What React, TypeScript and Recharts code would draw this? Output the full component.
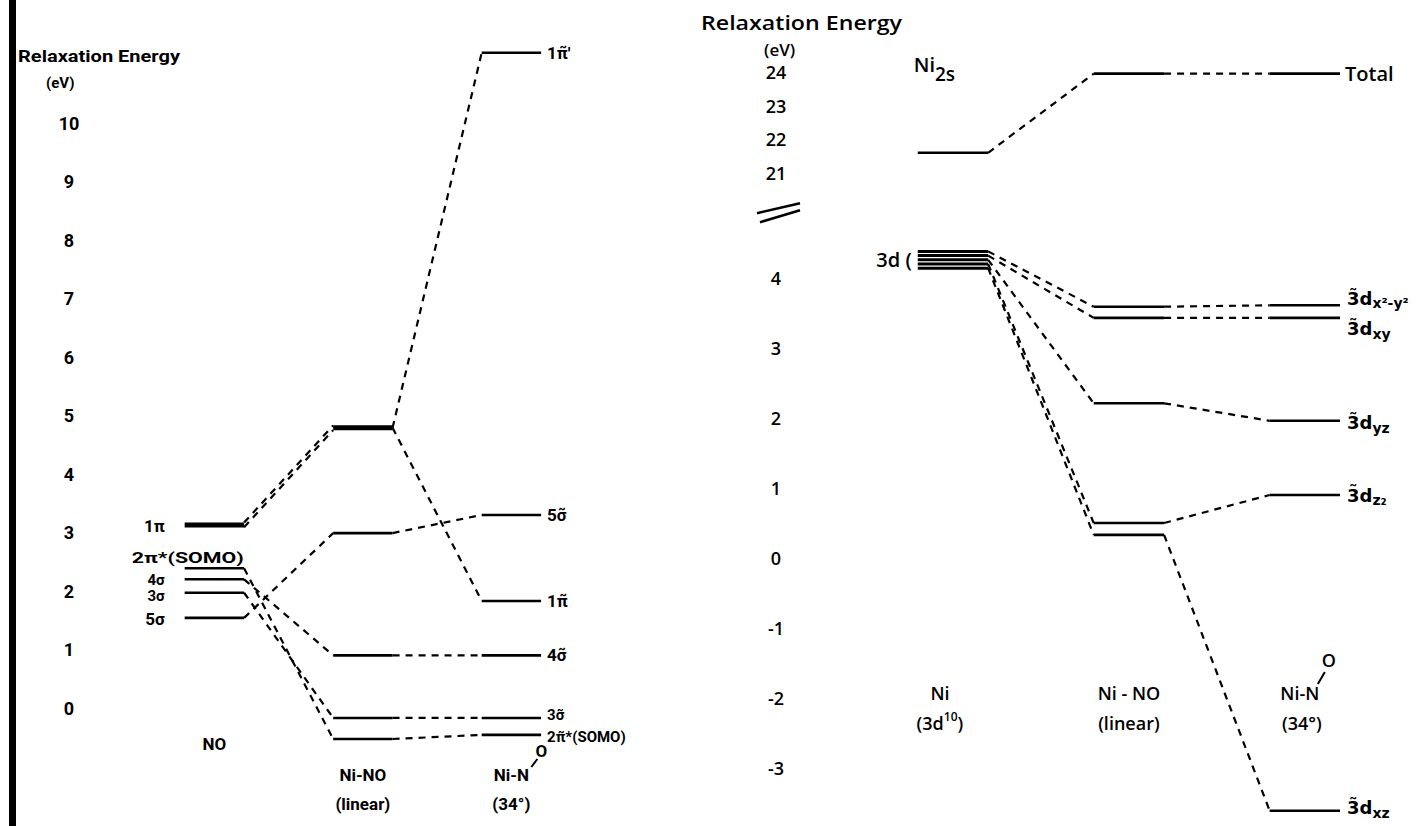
import React from 'react';
import { LineChart, Line, XAxis, YAxis } from 'recharts';

// ---------------- DATA ----------------
// Left panel: NO, Ni-NO (linear), Ni-N-O (34°) — relaxation energies (eV)
const LEFT_TICKS = [0, 1, 2, 3, 4, 5, 6, 7, 8, 9, 10];
const LEFT_COLUMNS = [0, 1, 2];
const LEFT_COLUMN_NAMES = ['NO', 'Ni-NO', 'Ni-N'];
const LEFT_COLUMN_SUBS = ['', '(linear)', '(34°)'];

const NO_LEVELS = [
  { id: 'no1pi', col: 0, e: 3.13 },
  { id: 'no2pi', col: 0, e: 2.39 },
  { id: 'no4s', col: 0, e: 2.2 },
  { id: 'no3s', col: 0, e: 1.97 },
  { id: 'no5s', col: 0, e: 1.54 },
];
const LINEAR_LEVELS = [
  { id: 'lin1pi', col: 1, e: 4.79 },
  { id: 'lin5s', col: 1, e: 2.99 },
  { id: 'lin4s', col: 1, e: 0.9 },
  { id: 'lin3s', col: 1, e: -0.17 },
  { id: 'lin2pi', col: 1, e: -0.53 },
];
const BENT_LEVELS = [
  { id: 'b1pip', col: 2, e: 11.2 },
  { id: 'b5s', col: 2, e: 3.3 },
  { id: 'b1pi', col: 2, e: 1.83 },
  { id: 'b4s', col: 2, e: 0.9 },
  { id: 'b3s', col: 2, e: -0.17 },
  { id: 'b2pi', col: 2, e: -0.46 },
];
const LEFT_LABELS: Record<string, string> = {
  no1pi: '1π', no2pi: '2π*(SOMO)', no4s: '4σ', no3s: '3σ', no5s: '5σ',
  b1pip: '1π̃′', b5s: '5σ̃', b1pi: '1π̃', b4s: '4σ̃', b3s: '3σ̃', b2pi: '2π̃*(SOMO)',
};
const LEFT_LINKS: [string, string][] = [
  ['lin1pi', 'b1pip'], ['lin1pi', 'b1pi'], ['no5s', 'lin5s'], ['lin5s', 'b5s'],
  ['no2pi', 'lin2pi'], ['no4s', 'lin4s'], ['no3s', 'lin3s'],
  ['lin4s', 'b4s'], ['lin3s', 'b3s'], ['lin2pi', 'b2pi'],
];
const LEFT_DOUBLE_LINKS: [string, string][] = [['no1pi', 'lin1pi']];

// Right panel: Ni 3d / Ni 2s relaxation energies (eV), broken axis
const RIGHT_UPPER_TICKS = [21, 22, 23, 24];
const RIGHT_LOWER_TICKS = [-3, -2, -1, 0, 1, 2, 3, 4];
const AXIS_BREAK = 4.94;
const RIGHT_COLUMNS = [0, 1, 2];
const RIGHT_COLUMN_NAMES = ['Ni', 'Ni - NO', 'Ni-N'];
const RIGHT_COLUMN_SUBS = ['(3d', '(linear)', '(34°)'];

const NI_2S = 21.6;
const TOTAL_LINEAR = 23.95;
const TOTAL_BENT = 23.95;

const NI_3D = [4.38, 4.32, 4.26, 4.2, 4.14];
const D_LINEAR = [3.59, 3.43, 2.21, 0.5, 0.33];
const D_BENT = [3.61, 3.43, 1.96, 0.9, -3.61];
const D_SUBS = ['x²-y²', 'xy', 'yz', 'z₂', 'xz'];

// ---------------- STYLE ----------------
const FONT = "'Open Sans', 'DejaVu Sans', Arial, sans-serif";
const BOLD_FONT = "Roboto, 'Open Sans', Arial, sans-serif";
const ORB_FONT = "'DejaVu Sans', 'Open Sans', sans-serif";
const HW = 0.2;
const LEVEL_W = 2.6;
const THICK_W = 5;
const DASH = '7 6';
const LINK_W = 2.2;
const D_LABEL_DY = [-7, 11, 2, 0, -3];
const LEFT_LABEL_DY: Record<string, number> = { no4s: 0, no3s: 2, b3s: -3, b2pi: 2 };
const LEFT_LABEL_SIZE: Record<string, number> = { no4s: 15, no3s: 15, b3s: 15, b2pi: 15 };

type Lv = { id: string; col: number; e: number };

function levelLine(id: string, col: number, e: number, width: number, label?: (cx: number, cy: number) => React.ReactNode, labelIndex = 1) {
  const data = [{ x: col - HW, y: e }, { x: col + HW, y: e }];
  const dot = label
    ? (p: any) => (p.index === labelIndex ? <g key={`${id}-lab`}>{label(p.cx, p.cy)}</g> : <g key={`${id}-n${p.index}`} />)
    : false;
  return (
    <Line key={id} data={data} dataKey="y" type="linear" stroke="#000" strokeWidth={width}
      dot={dot as any} activeDot={false} isAnimationActive={false} legendType="none" />
  );
}

function linkLine(key: string, a: { col: number; e: number }, b: { col: number; e: number }, offset = 0) {
  const data = [{ x: a.col + HW, y: a.e + offset }, { x: b.col - HW, y: b.e + offset }];
  return (
    <Line key={key} data={data} dataKey="y" type="linear" stroke="#000" strokeWidth={LINK_W}
      strokeDasharray={DASH} dot={false} activeDot={false} isAnimationActive={false} legendType="none" />
  );
}

const ALL_LEFT: Lv[] = [...NO_LEVELS, ...LINEAR_LEVELS, ...BENT_LEVELS];
const findLeft = (id: string) => ALL_LEFT.find((l) => l.id === id)!;

const leftTxt = { fontFamily: BOLD_FONT, fontWeight: 700, fontSize: 17, fill: '#000' } as const;
const rightTxt = { fontFamily: FONT, fontWeight: 600, fontSize: 19, fill: '#000' } as const;

function leftLabel(l: Lv) {
  const text = LEFT_LABELS[l.id];
  if (!text) return undefined;
  const dy = LEFT_LABEL_DY[l.id] ?? 0;
  const fs = LEFT_LABEL_SIZE[l.id] ?? 17;
  if (l.col === 0) {
    if (l.id === 'no2pi') {
      return (cx: number, cy: number) => (
        <text x={cx - 53} y={cy - 10} textAnchor="start" dominantBaseline="central" {...leftTxt} fontSize={15} textLength={112} lengthAdjust="spacingAndGlyphs">{text}</text>
      );
    }
    return (cx: number, cy: number) => (
      <text x={cx - 20} y={cy + 1 + dy} textAnchor="end" dominantBaseline="central" {...leftTxt} fontSize={fs}>{text}</text>
    );
  }
  return (cx: number, cy: number) => (
    <text x={cx + 6} y={cy + dy} textAnchor="start" dominantBaseline="central" {...leftTxt} fontSize={fs}>{text}</text>
  );
}

const LeftYTick = (p: any) => (
  <text x={69} y={p.y} textAnchor="middle" dominantBaseline="central" {...leftTxt} fontSize={18}>{p.payload.value}</text>
);

const LeftColTick = (p: any) => {
  const i = p.payload.value as number;
  const x = p.x;
  if (i === 0) return <text x={x} y={744} textAnchor="middle" dominantBaseline="central" {...leftTxt}>{LEFT_COLUMN_NAMES[0]}</text>;
  if (i === 1)
    return (
      <g>
        <text x={x} y={775} textAnchor="middle" dominantBaseline="central" {...leftTxt}>{LEFT_COLUMN_NAMES[1]}</text>
        <text x={x} y={804} textAnchor="middle" dominantBaseline="central" {...leftTxt}>{LEFT_COLUMN_SUBS[1]}</text>
      </g>
    );
  return (
    <g>
      <text x={x} y={775} textAnchor="middle" dominantBaseline="central" {...leftTxt}>{LEFT_COLUMN_NAMES[2]}</text>
      <line x1={x + 20} y1={767} x2={x + 26} y2={759} stroke="#000" strokeWidth={2} />
      <text x={x + 30} y={751} textAnchor="middle" dominantBaseline="central" {...leftTxt}>O</text>
      <text x={x} y={804} textAnchor="middle" dominantBaseline="central" {...leftTxt}>{LEFT_COLUMN_SUBS[2]}</text>
    </g>
  );
};

const RightYTick = (p: any) => {
  const v = p.payload.value as number;
  if (v === AXIS_BREAK) {
    return (
      <g>
        <line x1={57} y1={p.y + 1} x2={100} y2={p.y - 9} stroke="#000" strokeWidth={2.5} />
        <line x1={60} y1={p.y + 10} x2={100} y2={p.y - 2} stroke="#000" strokeWidth={2.5} />
      </g>
    );
  }
  return <text x={76} y={p.y} textAnchor="middle" dominantBaseline="central" {...rightTxt} fontSize={18}>{v}</text>;
};

const RightColTick = (p: any) => {
  const i = p.payload.value as number;
  const x = p.x;
  if (i === 0)
    return (
      <g>
        <text x={x - 13} y={693} textAnchor="middle" dominantBaseline="central" {...rightTxt} fontSize={18}>{RIGHT_COLUMN_NAMES[0]}</text>
        <text x={x - 13} y={723} textAnchor="middle" dominantBaseline="central" {...rightTxt} fontSize={18}>
          {RIGHT_COLUMN_SUBS[0]}<tspan fontSize={12} dy={-7}>10</tspan><tspan dy={7}>)</tspan>
        </text>
      </g>
    );
  if (i === 1)
    return (
      <g>
        <text x={x} y={693} textAnchor="middle" dominantBaseline="central" {...rightTxt} fontSize={18}>{RIGHT_COLUMN_NAMES[1]}</text>
        <text x={x} y={723} textAnchor="middle" dominantBaseline="central" {...rightTxt} fontSize={18}>{RIGHT_COLUMN_SUBS[1]}</text>
      </g>
    );
  return (
    <g>
      <text x={x - 5} y={693} textAnchor="middle" dominantBaseline="central" {...rightTxt} fontSize={18}>{RIGHT_COLUMN_NAMES[2]}</text>
      <line x1={x + 13} y1={684} x2={x + 20} y2={672} stroke="#000" strokeWidth={2} />
      <text x={x + 24} y={660} textAnchor="middle" dominantBaseline="central" {...rightTxt} fontSize={18}>O</text>
      <text x={x - 3} y={723} textAnchor="middle" dominantBaseline="central" {...rightTxt} fontSize={18}>{RIGHT_COLUMN_SUBS[2]}</text>
    </g>
  );
};

export default function App() {
  const leftLevels = ALL_LEFT.map((l) =>
    levelLine(l.id, l.col, l.e, l.id === 'no1pi' || l.id === 'lin1pi' ? THICK_W : LEVEL_W, leftLabel(l), l.col === 0 ? 0 : 1)
  );
  const leftLinks = LEFT_LINKS.map(([a, b]) => linkLine(`${a}-${b}`, findLeft(a), findLeft(b)));
  const leftDouble = LEFT_DOUBLE_LINKS.flatMap(([a, b]) => [
    linkLine(`${a}-${b}-1`, findLeft(a), findLeft(b), 0.04),
    linkLine(`${a}-${b}-2`, findLeft(a), findLeft(b), -0.04),
  ]);

  const upper = [
    levelLine('ni2s', 0, NI_2S, LEVEL_W, (cx, cy) => (
      <text x={cx - 4} y={cy - 88} textAnchor="start" dominantBaseline="central" {...rightTxt} fontSize={20}>
        Ni<tspan fontSize={19} dy={9}>2s</tspan>
      </text>
    ), 0),
    levelLine('totLin', 1, TOTAL_LINEAR, LEVEL_W),
    levelLine('totBent', 2, TOTAL_BENT, LEVEL_W, (cx, cy) => (
      <text x={cx + 5} y={cy} textAnchor="start" dominantBaseline="central" {...rightTxt} fontSize={20}>Total</text>
    )),
    linkLine('l2s', { col: 0, e: NI_2S }, { col: 1, e: TOTAL_LINEAR }),
    linkLine('ltot', { col: 1, e: TOTAL_LINEAR }, { col: 2, e: TOTAL_BENT }),
  ];

  const lower: React.ReactNode[] = [];
  NI_3D.forEach((e, i) => {
    lower.push(levelLine(`d3-${i}`, 0, e, 3, i === 2 ? (cx, cy) => (
      <text x={cx - 6} y={cy} textAnchor="end" dominantBaseline="central" {...rightTxt} fontSize={20}>3d (</text>
    ) : undefined, 0));
  });
  D_LINEAR.forEach((e, i) => lower.push(levelLine(`dl-${i}`, 1, e, LEVEL_W)));
  D_BENT.forEach((e, i) =>
    lower.push(levelLine(`db-${i}`, 2, e, LEVEL_W, (cx, cy) => (
      <text x={cx + 7} y={cy + D_LABEL_DY[i]} textAnchor="start" dominantBaseline="central" fontFamily={ORB_FONT} fontWeight={700} fontSize={18} fill="#000">
        3̃d<tspan fontSize={14} dy={5}>{D_SUBS[i]}</tspan>
      </text>
    )))
  );
  NI_3D.forEach((e, i) => lower.push(linkLine(`a-${i}`, { col: 0, e }, { col: 1, e: D_LINEAR[i] })));
  D_LINEAR.forEach((e, i) => lower.push(linkLine(`b-${i}`, { col: 1, e }, { col: 2, e: D_BENT[i] })));

  return (
    <div style={{ position: 'absolute', left: 0, top: 0, width: 1428, height: 826, background: '#fff', overflow: 'hidden' }}>
      <div style={{ position: 'absolute', left: 9, top: 0, width: 7, height: 826, background: '#000' }} />
      <svg width={1428} height={826} style={{ position: 'absolute', left: 0, top: 0 }}>
        <text x={18} y={56} dominantBaseline="central" {...leftTxt} fontSize={16} textLength={162} lengthAdjust="spacingAndGlyphs">Relaxation Energy</text>
        <text x={46} y={83} dominantBaseline="central" {...leftTxt} fontSize={15}>(eV)</text>
        <text x={701} y={22} dominantBaseline="central" {...rightTxt} fontSize={20} textLength={201} lengthAdjust="spacingAndGlyphs">Relaxation Energy</text>
        <text x={764} y={49} dominantBaseline="central" {...rightTxt} fontSize={17}>(eV)</text>
      </svg>

      <div style={{ position: 'absolute', left: 0, top: 0 }}>
        <LineChart width={697} height={826} margin={{ top: 35.25, right: 0, bottom: 0.25, left: 0 }}>
          <XAxis type="number" dataKey="x" domain={[-0.75, 3.25]} ticks={LEFT_COLUMNS} interval={0} tick={LeftColTick} axisLine={false} tickLine={false} height={30} />
          <YAxis type="number" domain={[-1.5, 11.5]} ticks={LEFT_TICKS} interval={0} tick={LeftYTick} axisLine={false} tickLine={false} width={103} />
          {leftDouble}
          {leftLinks}
          {leftLevels}
        </LineChart>
      </div>

      <div style={{ position: 'absolute', left: 700, top: 0 }}>
        <LineChart width={728} height={200} margin={{ top: 21.5, right: 0, bottom: 10.2, left: 0 }}>
          <XAxis type="number" dataKey="x" domain={[-1, 2.7]} hide />
          <YAxis type="number" domain={[20.5, 25.5]} ticks={RIGHT_UPPER_TICKS} interval={0} tick={RightYTick} axisLine={false} tickLine={false} width={77} />
          {upper}
        </LineChart>
      </div>

      <div style={{ position: 'absolute', left: 700, top: 0 }}>
        <LineChart width={728} height={826} margin={{ top: 194, right: 0, bottom: 0, left: 0 }}>
          <XAxis type="number" dataKey="x" domain={[-1, 2.7]} ticks={RIGHT_COLUMNS} interval={0} tick={RightColTick} axisLine={false} tickLine={false} height={2} />
          <YAxis type="number" domain={[-3.8, 5.2]} ticks={[...RIGHT_LOWER_TICKS, AXIS_BREAK]} interval={0} tick={RightYTick} axisLine={false} tickLine={false} width={77} />
          {lower}
        </LineChart>
      </div>
    </div>
  );
}
